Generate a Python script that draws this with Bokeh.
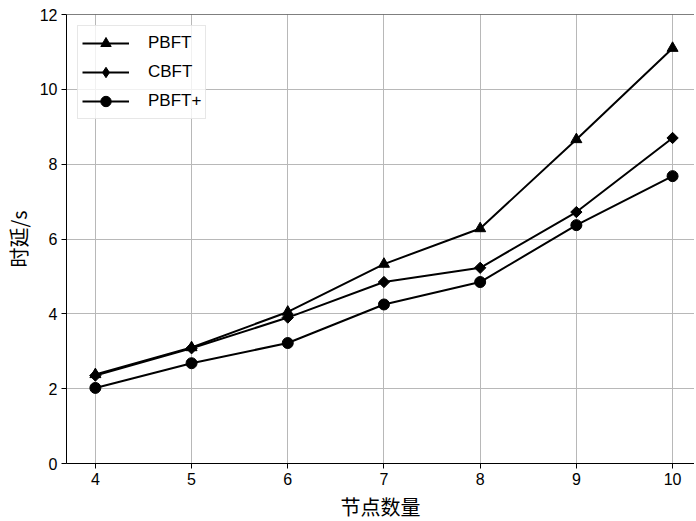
import math
from bokeh.plotting import figure
from bokeh.models import Range1d, FixedTicker, Legend, LegendItem, Span
from bokeh.embed import file_html
from bokeh.resources import INLINE

nodes = [4, 5, 6, 7, 8, 9, 10]
pbft = [2.38, 3.10, 4.05, 5.33, 6.28, 8.66, 11.10]
cbft = [2.35, 3.08, 3.90, 4.85, 5.23, 6.72, 8.70]
pbft_plus = [2.02, 2.68, 3.22, 4.25, 4.85, 6.37, 7.68]
x_ticks = [4, 5, 6, 7, 8, 9, 10]
y_ticks = [0, 2, 4, 6, 8, 10, 12]
x_title = "节点数量"
y_title = "时延/s"

p = figure(frame_width=628, frame_height=449, output_backend="svg", toolbar_location=None,
           x_range=Range1d(3.7, 10.228), y_range=Range1d(0, 12),
           min_border_left=66, min_border_right=0, min_border_top=14, min_border_bottom=56)
p.outline_line_color = None
p.background_fill_color = "white"
p.border_fill_color = "white"

for ax in (p.xaxis[0], p.yaxis[0]):
    ax.major_label_text_font = "Liberation Sans"
    ax.major_label_text_font_size = "16px"
    ax.major_label_text_color = "black"
    ax.axis_label_text_font = "Noto Sans CJK SC"
    ax.axis_label_text_font_size = "20px"
    ax.axis_label_text_font_style = "normal"
    ax.axis_label_text_color = "black"
    ax.minor_tick_line_color = None
    ax.major_tick_out = 5
    ax.major_tick_in = 0
    ax.major_tick_line_color = "black"
    ax.axis_line_color = "black"
    ax.major_label_standoff = 4

p.xaxis.ticker = FixedTicker(ticks=x_ticks)
p.yaxis.ticker = FixedTicker(ticks=y_ticks)
p.xaxis.axis_label = x_title
p.yaxis.axis_label = y_title
p.xaxis.axis_label_standoff = 4
p.yaxis.axis_label_standoff = 4

p.xgrid.ticker = FixedTicker(ticks=x_ticks)
p.ygrid.ticker = FixedTicker(ticks=y_ticks)
p.grid.grid_line_color = "#b8b8b8"
p.grid.grid_line_width = 1

p.add_layout(Span(location=12, dimension="width", line_color="black", line_width=1))

items = []
for label, ys, marker, size, ang, legend_marker in [
        ("PBFT", pbft, "triangle", 11, 0.0, None),
        ("CBFT", cbft, "square", 8, math.pi / 4, "diamond"),
        ("PBFT+", pbft_plus, "circle", 11, 0.0, None)]:
    lr = p.line(nodes, ys, line_color="black", line_width=2)
    sr = p.scatter(nodes, ys, marker=marker, size=size, angle=ang,
                   fill_color="black", line_color="black")
    if legend_marker is not None:
        # legend markers are never rotated, so the legend uses a hidden diamond renderer
        lg = p.scatter(nodes, ys, marker=legend_marker, size=size,
                       fill_color="black", line_color="black", visible=False)
        items.append(LegendItem(label=label, renderers=[lr, lg]))
    else:
        items.append(LegendItem(label=label, renderers=[lr, sr]))

legend = Legend(items=items, location="top_left", click_policy="none")
legend.label_text_font = "Liberation Sans"
legend.label_text_font_size = "17px"
legend.label_text_color = "black"
legend.glyph_width = 47
legend.glyph_height = 26
legend.spacing = 3
legend.label_standoff = 19
legend.padding = 4
legend.margin = 11
legend.border_line_color = "#d0d0d0"
legend.border_line_width = 1
legend.background_fill_alpha = 0.8
p.add_layout(legend)

open("out.html", "w").write(file_html(p, INLINE))
